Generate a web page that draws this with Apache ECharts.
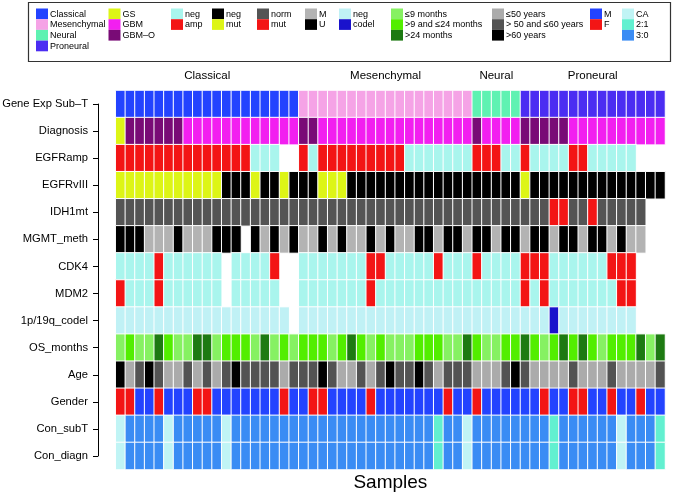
<!DOCTYPE html>
<html><head><meta charset="utf-8">
<script src="https://cdn.jsdelivr.net/npm/echarts@6/dist/echarts.min.js"></script>
<style>html,body{margin:0;padding:0;background:#fff}#c{width:685px;height:493px}</style>
</head><body><div id="c"></div>
<script>
// ---- data ----
const rowNames = ['Gene Exp Sub\u2013T','Diagnosis','EGFRamp','EGFRvIII','IDH1mt','MGMT_meth','CDK4','MDM2','1p/19q_codel','OS_months','Age','Gender','Con_subT','Con_diagn'];
const groupNames = ['Classical','Mesenchymal','Neural','Proneural'];
const groupRanges = [[0,18],[19,36],[37,41],[42,56]];

const geneExp = ['C','C','C','C','C','C','C','C','C','C','C','C','C','C','C','C','C','C','C',
 'M','M','M','M','M','M','M','M','M','M','M','M','M','M','M','M','M','M',
 'N','N','N','N','N',
 'P','P','P','P','P','P','P','P','P','P','P','P','P','P','P'];
const diagnosis = ['S','O','O','O','O','O','O','B','B','B','B','B','B','B','B','B','B','B','B',
 'O','O','B','B','B','B','B','B','B','B','B','B','B','B','B','B','B','B',
 'O','B','B','B','B',
 'O','O','O','O','O','B','B','B','B','B','B','B','B','B','B'];
const egfrAmp = ['A','A','A','A','A','A','A','A','A','A','A','A','A','A','n','n','n','','',
 'A','n','A','A','A','A','A','A','A','A','A','n','n','n','n','n','n','n',
 'A','A','A','n','n',
 'A','n','n','n','n','A','A','n','n','n','n','n','','',''];
const egfrvIII = ['Y','Y','Y','Y','Y','Y','Y','Y','Y','Y','Y','n','n','n','Y','n','n','Y','n',
 'n','n','Y','Y','Y','n','n','n','n','n','n','n','n','n','n','n','n','n',
 'n','n','n','n','n',
 'Y','n','n','n','n','n','n','n','n','n','n','n','n','n','n'];
const idh1 = ['n','n','n','n','n','n','n','n','n','n','n','n','n','n','n','n','n','n','n',
 'n','n','n','n','n','n','n','n','n','n','n','n','n','n','n','n','n','n',
 'n','n','n','n','n',
 'n','n','n','R','R','n','n','R','n','n','n','n','n','',''];
const mgmt = ['U','U','U','M','M','M','U','M','M','M','U','U','U','','U','M','U','M','U',
 'M','M','U','M','U','M','M','U','M','U','M','M','U','U','M','U','U','M',
 'U','U','M','U','U',
 'M','U','U','M','U','U','M','U','U','M','U','M','M','',''];
const cdk4 = ['n','n','n','n','A','n','n','n','n','n','n','','n','n','n','n','A','','',
 'n','n','n','n','n','n','n','A','A','n','n','n','n','n','A','n','n','n',
 'A','n','n','n','n',
 'A','A','A','n','n','n','n','n','n','A','A','A','','',''];
const mdm2 = ['A','n','n','n','A','n','n','n','n','n','n','','n','n','n','n','n','','',
 'n','n','n','n','n','n','n','A','n','n','n','n','n','n','n','n','n','n',
 'n','n','n','n','n',
 'A','n','A','n','n','n','n','n','n','n','A','A','','',''];
const codel = ['n','n','n','n','n','n','n','n','n','n','n','n','n','n','n','n','n','n','',
 'n','n','n','n','n','n','n','n','n','n','n','n','n','n','n','n','n','n',
 'n','n','n','n','n',
 'n','n','n','D','n','n','n','n','n','n','n','n','','',''];
const osMonths = ['L','B','L','L','D','B','L','L','D','D','L','B','B','B','L','D','L','B','L',
 'B','B','B','L','B','D','B','L','B','L','L','L','B','B','B','L','L','D',
 'B','L','L','B','B',
 'D','B','L','B','D','B','D','B','L','B','B','B','D','L','D'];
const age = ['c','a','b','c','b','a','a','b','a','b','a','b','c','b','b','b','b','a','b',
 'b','b','c','b','a','a','b','a','b','c','b','b','c','b','a','b','b','b',
 'a','a','a','b','c',
 'b','a','a','a','a','b','a','a','a','b','a','a','a','a','b'];
const gender = ['F','F','M','M','F','M','M','M','F','F','M','M','M','M','M','M','M','F','M',
 'M','F','F','M','M','M','M','F','M','M','M','M','M','M','M','F','M','M',
 'F','M','M','M','M',
 'M','M','F','M','M','F','F','M','M','F','M','M','F','M','M'];
const conSubT = ['C','T','T','T','T','C','T','T','T','T','T','C','T','T','T','T','T','T','T',
 'T','T','T','T','T','T','T','T','T','T','T','T','T','T','W','T','T','C',
 'T','T','T','T','T',
 'T','T','T','W','T','T','T','T','T','T','C','T','T','T','W'];
const conDiagn = ['C','T','T','T','T','C','T','T','T','T','T','C','T','T','T','T','T','T','T',
 'T','T','T','T','T','T','T','T','T','T','T','T','T','T','W','T','T','C',
 'T','T','T','T','T',
 'T','T','T','W','T','T','T','T','T','T','C','T','T','T','W'];

// ---- level definitions (label, colour) ----
const levels = {
  geneExp: [['C','Classical','#2343ff'],['M','Mesenchymal','#f5a3e6'],['N','Neural','#5ff2b2'],['P','Proneural','#4b2df2']],
  diagnosis: [['S','GS','#ddf516'],['B','GBM','#f21ff0'],['O','GBM\u2013O','#790b76']],
  amp: [['n','neg','#a9f5ed'],['A','amp','#f31515']],
  vIII: [['n','neg','#000000'],['Y','mut','#ddf516']],
  idh: [['n','norm','#545454'],['R','mut','#f31515']],
  mgmt: [['M','M','#b3b3b3'],['U','U','#000000']],
  codel: [['n','neg','#c0f1f5'],['D','codel','#1a12cc']],
  os: [['L','\u22649 months','#86f162'],['B','>9 and \u226424 months','#52ee00'],['D','>24 months','#1d7a12']],
  age: [['a','\u226450 years','#ababab'],['b','> 50 and \u226460 years','#535353'],['c','>60 years','#000000']],
  gender: [['M','M','#2343ff'],['F','F','#f31515']],
  con: [['C','CA','#c0f4f5'],['W','2:1','#62f0d0'],['T','3:0','#3a8cf4']]
};
const rows = [
  [geneExp,'geneExp'],[diagnosis,'diagnosis'],[egfrAmp,'amp'],[egfrvIII,'vIII'],[idh1,'idh'],
  [mgmt,'mgmt'],[cdk4,'amp'],[mdm2,'amp'],[codel,'codel'],[osMonths,'os'],[age,'age'],
  [gender,'gender'],[conSubT,'con'],[conDiagn,'con']
];
const legendOrder = ['geneExp','diagnosis','amp','vIII','idh','mgmt','codel','os','age','gender','con'];
const legendX = [36,108.5,171,212,257,305,339,391,492,590,622];

// ---- build ----
const nCols = geneExp.length;
const samples = [];
for (let i = 0; i < nCols; i++) samples.push('S' + (i + 1));
const colorKeys = [], colorList = [];
Object.keys(levels).forEach(k => levels[k].forEach(l => { colorKeys.push(k + ':' + l[0]); colorList.push(l[2]); }));
const data = [];
rows.forEach((r, ri) => {
  r[0].forEach((code, ci) => {
    if (code) data.push([ci, ri, colorKeys.indexOf(r[1] + ':' + code)]);
  });
});

const FONT = '"Liberation Sans", Arial, Helvetica, sans-serif';
const chart = echarts.init(document.getElementById('c'), null, {renderer: 'canvas'});
const gridLeft = 115.7, gridRight = 20, gridTop = 90.5, gridBottom = 23.5;
const rowH = (493 - gridTop - gridBottom) / rowNames.length;

const legendGraphics = [{
  type: 'rect', shape: {x: 28.5, y: 2.5, width: 642, height: 59}, style: {fill: 'none', stroke: '#333', lineWidth: 1.2}, z: 10
}];
legendOrder.forEach((k, gi) => {
  levels[k].forEach((l, li) => {
    const y = 8.5 + li * 10.7;
    legendGraphics.push({type: 'rect', shape: {x: legendX[gi], y: y, width: 12, height: 10.7}, style: {fill: l[2]}, z: 10});
    legendGraphics.push({type: 'text', x: legendX[gi] + 14, y: y + 5.8, style: {text: l[1], fill: '#000', font: '9px ' + FONT, verticalAlign: 'middle'}, z: 10});
  });
});

const option = {
  animation: false,
  backgroundColor: '#fff',
  grid: [
    {left: gridLeft, right: gridRight, top: gridTop, bottom: gridBottom, outerBoundsMode: 'none', containLabel: false},
    {left: gridLeft, right: gridRight, top: gridTop + rowH / 2, bottom: gridBottom + rowH / 2, outerBoundsMode: 'none', containLabel: false}
  ],
  xAxis: [
    {type: 'category', gridIndex: 0, data: samples, axisLine: {show: false}, axisTick: {show: false}, axisLabel: {show: false},
     splitLine: {show: false}, name: 'Samples', nameLocation: 'middle', nameGap: 4,
     nameTextStyle: {fontSize: 19, color: '#000', fontFamily: FONT, verticalAlign: 'top'}},
    {type: 'value', gridIndex: 1, show: false, min: 0, max: 1}
  ],
  yAxis: [
    {type: 'category', gridIndex: 0, data: rowNames, inverse: true, show: false},
    {type: 'value', gridIndex: 1, min: 0, max: rowNames.length - 1, interval: 1, inverse: true, offset: 17.7,
     axisLine: {show: true, onZero: false, lineStyle: {color: '#000', width: 1}},
     axisTick: {show: true, length: 5, lineStyle: {color: '#000'}},
     splitLine: {show: false},
     axisLabel: {show: true, margin: 10, fontSize: 11.2, color: '#000', fontFamily: FONT, formatter: v => rowNames[v]}}
  ],
  visualMap: {type: 'piecewise', show: false, dimension: 2, seriesIndex: 0,
    pieces: colorList.map((c, i) => ({value: i, color: c}))},
  series: [{
    type: 'heatmap', xAxisIndex: 0, yAxisIndex: 0, data: data,
    itemStyle: {borderColor: '#ffffff', borderWidth: 1},
    emphasis: {disabled: true}, progressive: 0
  }],
  graphic: legendGraphics
};
chart.setOption(option);

// group titles above the heatmap, positioned via the category axis
const titles = groupNames.map((g, i) => {
  const a = chart.convertToPixel({xAxisIndex: 0}, samples[groupRanges[i][0]]);
  const b = chart.convertToPixel({xAxisIndex: 0}, samples[groupRanges[i][1]]);
  return {type: 'text', x: (a + b) / 2, y: 76, style: {text: g, fill: '#000', font: '11.5px ' + FONT, align: 'center', verticalAlign: 'middle'}, z: 10};
});
chart.setOption({graphic: legendGraphics.concat(titles)});
</script></body></html>
